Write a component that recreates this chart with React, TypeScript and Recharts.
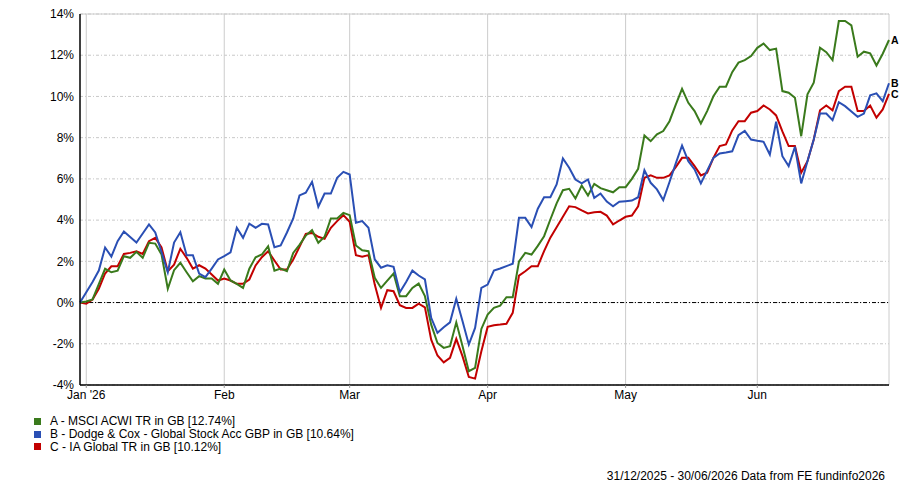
import React from 'react';
import { LineChart, Line, XAxis, YAxis, CartesianGrid, ReferenceLine, ReferenceDot } from 'recharts';

// Series values (% growth), one per weekday from 31/12/2025 to 30/06/2026
const seriesA = [
  0, 0.05, 0.15, 0.9, 1.64, 1.47, 1.55, 2.25, 2.17, 2.46,
  2.17, 2.90, 2.86, 2.33, 0.67, 1.57, 1.93, 1.47, 1.03, 1.28,
  1.17, 1.17, 0.91, 1.60, 1.07, 0.91, 0.71, 1.64, 2.20, 2.33,
  2.73, 1.55, 1.65, 1.52, 2.41, 2.80, 3.25, 3.51, 2.90, 3.19,
  4.08, 4.08, 4.35, 4.24, 2.77, 2.54, 2.49, 1.20, 0.71, 1.06,
  1.41, 0.31, 0.31, 0.71, 0.92, 0.31, -1.07, -1.96, -2.20, -2.12,
  -0.96, -2.12, -3.33, -3.17, -1.28, -0.58, -0.26, -0.15, 0.26, 0.26,
  2.00, 2.41, 2.33, 2.75, 3.22, 4.03, 4.81, 5.45, 5.52, 5.05,
  5.68, 5.19, 5.76, 5.55, 5.45, 5.35, 5.60, 5.60, 6.00, 6.49,
  8.11, 7.83, 8.16, 8.32, 8.80, 9.60, 10.37, 9.69, 9.29, 8.69,
  9.29, 10.01, 10.47, 10.47, 11.18, 11.64, 11.76, 11.96, 12.36, 12.57,
  12.25, 12.32, 10.26, 10.18, 9.94, 8.07, 10.10, 10.67, 12.36, 12.15,
  11.76, 13.66, 13.66, 13.45, 11.93, 12.17, 12.09, 11.50, 12.07, 12.74,
];

const seriesB = [
  0, 0.5, 1.0, 1.55, 2.67, 2.23, 2.98, 3.45, 3.18, 2.91,
  3.35, 3.79, 3.40, 2.45, 1.47, 2.91, 3.41, 2.30, 2.30, 1.41,
  1.23, 1.65, 2.09, 2.25, 2.44, 3.63, 3.14, 3.83, 3.63, 3.82,
  3.79, 2.68, 2.77, 3.40, 4.08, 5.20, 5.33, 5.86, 4.65, 5.29,
  5.29, 6.05, 6.34, 6.21, 3.87, 3.95, 3.63, 2.09, 1.69, 1.81,
  1.73, 0.50, 1.00, 1.55, 1.31, 1.12, -0.74, -1.47, -1.20, -0.96,
  0.18, -0.91, -2.04, -1.23, 0.71, 0.87, 1.55, 1.65, 1.77, 1.88,
  4.11, 4.11, 3.66, 4.55, 5.11, 5.11, 5.73, 6.99, 6.54, 5.97,
  5.78, 5.97, 5.08, 5.29, 4.90, 4.67, 4.89, 4.92, 4.95, 5.11,
  6.42, 5.81, 5.49, 4.97, 5.85, 6.75, 7.62, 6.86, 6.46, 5.78,
  6.40, 7.02, 7.23, 7.28, 7.34, 8.12, 8.33, 7.91, 7.85, 7.80,
  7.18, 8.77, 7.10, 6.62, 7.56, 5.78, 6.86, 7.91, 9.17, 9.17,
  8.85, 9.72, 9.53, 9.27, 9.01, 9.17, 10.05, 10.15, 9.77, 10.64,
];

const seriesC = [
  0, -0.06, 0.15, 0.67, 1.41, 1.76, 1.76, 2.36, 2.41, 2.49,
  2.36, 2.98, 3.14, 2.68, 1.52, 1.84, 2.61, 2.17, 1.65, 1.81,
  1.65, 1.36, 1.07, 1.17, 1.07, 0.91, 0.91, 1.12, 1.80, 2.20,
  2.49, 2.04, 1.60, 1.60, 2.09, 2.70, 3.33, 3.38, 3.19, 3.09,
  3.63, 3.95, 4.24, 3.92, 2.30, 2.22, 2.30, 0.87, -0.26, 0.60,
  0.55, -0.13, -0.26, -0.26, -0.05, -0.23, -1.80, -2.57, -2.90, -2.68,
  -1.76, -2.61, -3.61, -3.69, -2.36, -1.18, -1.10, -1.07, -1.03, -0.50,
  1.31, 1.52, 1.76, 1.76, 2.50, 3.15, 3.65, 4.16, 4.67, 4.63,
  4.47, 4.32, 4.38, 4.40, 4.22, 3.79, 3.98, 4.16, 4.22, 4.67,
  6.05, 6.17, 6.05, 6.05, 6.17, 6.57, 7.02, 7.02, 6.62, 6.17,
  6.30, 7.02, 7.59, 7.67, 8.35, 8.80, 8.80, 9.21, 9.29, 9.56,
  9.37, 9.08, 8.30, 7.59, 7.59, 6.30, 6.86, 7.91, 9.33, 9.56,
  9.33, 10.26, 10.47, 10.47, 9.29, 9.29, 9.56, 8.97, 9.37, 10.12,
];

// Category axis: every weekday in the period
const startDate = '2025-12-31';
const endDate = '2026-06-30';
const monthTicks = ['2026-01-01', '2026-02-02', '2026-03-02', '2026-04-01', '2026-05-01', '2026-06-01'];
const monthLabels = ["Jan '26", 'Feb', 'Mar', 'Apr', 'May', 'Jun'];
const yTicks = [-4, -2, 0, 2, 4, 6, 8, 10, 12, 14];

const seriesNames = [
  'A - MSCI ACWI TR in GB [12.74%]',
  'B - Dodge & Cox - Global Stock Acc GBP in GB [10.64%]',
  'C - IA Global TR in GB [10.12%]',
];
const endLetters = ['A', 'B', 'C'];
const colors = ['#3a7a1c', '#2a4fb4', '#c20000'];
const footnote = '31/12/2025 - 30/06/2026 Data from FE fundinfo2026';

function weekdays(from: string, to: string): string[] {
  const out: string[] = [];
  const d = new Date(from + 'T00:00:00Z');
  const e = new Date(to + 'T00:00:00Z');
  while (d <= e) {
    const wd = d.getUTCDay();
    if (wd !== 0 && wd !== 6) out.push(d.toISOString().slice(0, 10));
    d.setUTCDate(d.getUTCDate() + 1);
  }
  return out;
}

const dates = weekdays(startDate, endDate);
const data = dates.map((date, i) => ({ date, a: seriesA[i], b: seriesB[i], c: seriesC[i] }));
const lastDate = dates[dates.length - 1];
const lastValues = [seriesA[seriesA.length - 1], seriesB[seriesB.length - 1], seriesC[seriesC.length - 1]];

const FONT = '"Liberation Sans", Arial, sans-serif';

export default function App() {
  return (
    <div style={{ position: 'absolute', left: 0, top: 0, width: 900, height: 484, background: '#fff', fontFamily: FONT }}>
      <LineChart width={900} height={410} data={data} margin={{ top: 14, right: 11, bottom: 0, left: 0 }}>
        <CartesianGrid vertical={false} stroke="#c8c8c8" strokeDasharray="3 2 1 2" />
        {monthTicks.map((t) => (
          <ReferenceLine key={t} x={t} stroke="#cccccc" strokeWidth={1} />
        ))}
        <ReferenceLine y={14} stroke="#cccccc" strokeWidth={1} />
        <ReferenceLine x={lastDate} stroke="#cccccc" strokeWidth={1} />
        <ReferenceLine y={0} stroke="#000" strokeWidth={1} strokeDasharray="4 2 1 2" />
        <XAxis
          dataKey="date"
          type="category"
          ticks={monthTicks}
          interval={0}
          tickFormatter={(v: string) => monthLabels[monthTicks.indexOf(v)] ?? ''}
          height={25}
          tickSize={3}
          tickMargin={2}
          axisLine={{ stroke: '#000', strokeWidth: 1.5 }}
          tickLine={{ stroke: '#999' }}
          tick={{ fill: '#000', fontSize: 12, fontFamily: FONT }}
        />
        <YAxis
          type="number"
          domain={[-4, 14]}
          ticks={yTicks}
          interval={0}
          width={80}
          tickSize={3}
          tickMargin={3}
          tickLine={false}
          axisLine={{ stroke: '#000', strokeWidth: 1.5 }}
          tickFormatter={(v: number) => `${v}%`}
          tick={{ fill: '#000', fontSize: 12, fontFamily: FONT }}
        />
        <Line type="linear" dataKey="c" stroke={colors[2]} strokeWidth={2} dot={false} isAnimationActive={false} />
        <Line type="linear" dataKey="a" stroke={colors[0]} strokeWidth={2} dot={false} isAnimationActive={false} />
        <Line type="linear" dataKey="b" stroke={colors[1]} strokeWidth={2} dot={false} isAnimationActive={false} />
        {endLetters.map((l, i) => (
          <ReferenceDot
            key={l}
            x={lastDate}
            y={lastValues[i]}
            r={1}
            fill="none"
            stroke="none"
            ifOverflow="visible"
            label={{ value: l, position: 'right', offset: 1, fill: '#000', fontSize: 10.5, fontWeight: 'bold', fontFamily: FONT }}
          />
        ))}
      </LineChart>
      <div style={{ position: 'absolute', left: 34, top: 415, fontSize: 12, lineHeight: '12.8px', color: '#000' }}>
        {seriesNames.map((n, i) => (
          <div key={n} style={{ display: 'flex', alignItems: 'center', height: 12.8 }}>
            <span style={{ display: 'inline-block', width: 7, height: 7, background: colors[i], marginRight: 9 }} />
            <span>{n}</span>
          </div>
        ))}
      </div>
      <div style={{ position: 'absolute', right: 15, top: 469, fontSize: 12, color: '#000', whiteSpace: 'nowrap' }}>
        {footnote}
      </div>
    </div>
  );
}
